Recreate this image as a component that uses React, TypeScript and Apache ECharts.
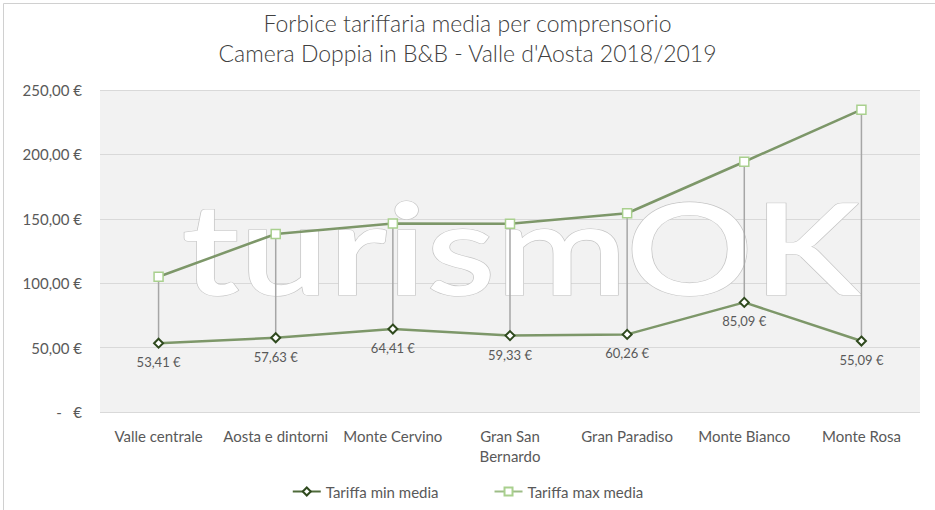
import React, { useEffect, useRef } from "react";
import * as echarts from "echarts";

const categories = [
  "Valle centrale",
  "Aosta e dintorni",
  "Monte Cervino",
  "Gran San\nBernardo",
  "Gran Paradiso",
  "Monte Bianco",
  "Monte Rosa",
];
const minValues = [53.41, 57.63, 64.41, 59.33, 60.26, 85.09, 55.09];
const maxValues = [105.0, 138.2, 146.3, 146.1, 154.3, 194.3, 234.7];
const yTicks = [0, 50, 100, 150, 200, 250];

const FONT = "Lato, 'DejaVu Sans', sans-serif";
const fmt = (v: number) => v.toFixed(2).replace(".", ",") + " €";

export default function App() {
  const ref = useRef<HTMLDivElement>(null);
  useEffect(() => {
    document.body.style.margin = "0";
    const chart = echarts.init(ref.current!, null, { renderer: "svg" });
    const rangeData = categories.map((_, i) => [i, minValues[i], maxValues[i]]);
    chart.setOption({
      animation: false,
      backgroundColor: "#ffffff",
      textStyle: { fontFamily: FONT },
      title: {
        text: "Forbice tariffaria media per comprensorio\nCamera Doppia in B&B - Valle d'Aosta 2018/2019",
        left: "center",
        top: 3,
        textStyle: {
          fontFamily: FONT,
          fontSize: 23,
          fontWeight: 300,
          color: "#404040",
          lineHeight: 30,
        },
      },
      graphic: [
        {
          type: "rect",
          left: 1,
          top: 1,
          z: 0,
          shape: { width: 932, height: 507 },
          style: { fill: "none", stroke: "#d0d0d0", lineWidth: 1 },
          silent: true,
        },
        {
          type: "text",
          x: 521,
          y: 310,
          scaleX: 1.24,
          z: 1,
          silent: true,
          style: {
            text: "turismOK",
            fontFamily: FONT,
            fontSize: 128,
            fontWeight: 600,
            fill: "#ffffff",
            stroke: "#c4c4c4",
            lineWidth: 1.2,
            textAlign: "center",
            textVerticalAlign: "bottom",
          },
        },
      ],
      legend: {
        bottom: 6,
        left: "center",
        itemGap: 55,
        itemWidth: 28,
        itemHeight: 10,
        textStyle: { color: "#595959", fontSize: 15, fontFamily: FONT },
        data: [
          { name: "Tariffa min media", lineStyle: { color: "#4f6b3a" } },
          { name: "Tariffa max media", lineStyle: { color: "#9dbd86" } },
        ],
      },
      grid: {
        left: 100,
        right: 15,
        top: 90,
        bottom: 98,
        show: true,
        backgroundColor: "#f2f2f2",
        borderWidth: 0,
      },
      xAxis: {
        type: "category",
        data: categories,
        boundaryGap: true,
        axisLine: { show: false },
        axisTick: { show: false },
        axisLabel: {
          color: "#595959",
          fontSize: 15,
          fontFamily: FONT,
          margin: 14,
          lineHeight: 20,
          interval: 0,
        },
      },
      yAxis: {
        type: "value",
        min: 0,
        max: 250,
        interval: 50,
        axisLine: { show: false },
        axisTick: { show: false },
        splitLine: { lineStyle: { color: "#d9d9d9", width: 1 } },
        axisLabel: {
          color: "#595959",
          fontSize: 15,
          fontFamily: FONT,
          margin: 18,
          customValues: yTicks,
          formatter: (v: number) => (v === 0 ? "-   €" : fmt(v)),
        },
      },
      series: [
        {
          type: "custom",
          name: "drop",
          z: 2,
          silent: true,
          data: rangeData,
          renderItem: (params: any, api: any) => {
            const p1 = api.coord([api.value(0), api.value(1)]);
            const p2 = api.coord([api.value(0), api.value(2)]);
            return {
              type: "line",
              shape: { x1: p1[0], y1: p1[1], x2: p2[0], y2: p2[1] },
              style: { stroke: "#a6a6a6", lineWidth: 1.5 },
            };
          },
          tooltip: { show: false },
        },
        {
          type: "line",
          name: "Tariffa min media",
          data: minValues,
          z: 3,
          symbol: "diamond",
          symbolSize: 9,
          lineStyle: { color: "#7d9769", width: 2.5 },
          itemStyle: { color: "#ffffff", borderColor: "#2f4a1e", borderWidth: 2 },
          label: {
            show: true,
            position: "bottom",
            distance: 7,
            color: "#595959",
            fontSize: 13,
            fontFamily: FONT,
            formatter: (p: any) => fmt(p.value),
          },
        },
        {
          type: "line",
          name: "Tariffa max media",
          data: maxValues,
          z: 3,
          symbol: "rect",
          symbolSize: 9,
          lineStyle: { color: "#7d9769", width: 2.5 },
          itemStyle: { color: "#ffffff", borderColor: "#a9d08e", borderWidth: 1.5 },
        },
      ],
    });
    return () => chart.dispose();
  }, []);
  return (
    <div
      ref={ref}
      style={{ width: 935, height: 510, position: "absolute", left: 0, top: 0 }}
    />
  );
}
